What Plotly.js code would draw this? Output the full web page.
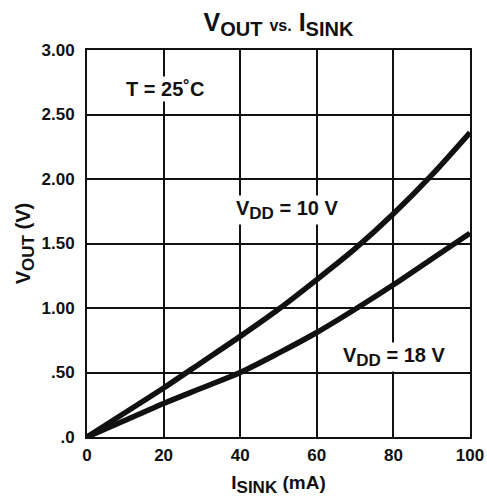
<!DOCTYPE html>
<html>
<head>
<meta charset="utf-8">
<script src="https://cdn.plot.ly/plotly-3.0.1.min.js"></script>
<style>body{margin:0;background:#fff}#c{width:487px;height:497px}</style>
</head>
<body>
<div id="c"></div>
<script>
var isink = [0, 10, 20, 30, 40, 50, 60, 70, 80, 90, 100];
var vout10 = [0, 0.19, 0.38, 0.58, 0.78, 0.99, 1.22, 1.46, 1.73, 2.03, 2.36];
var vout18 = [0, 0.13, 0.26, 0.38, 0.50, 0.65, 0.81, 0.99, 1.18, 1.38, 1.58];
var yTickVals = [0, 0.5, 1, 1.5, 2, 2.5, 3];
var yTickText = ['.0', '.50', '1.00', '1.50', '2.00', '2.50', '3.00'];
var xTickVals = [0, 20, 40, 60, 80, 100];

var fontFam = 'Liberation Sans, Arial, sans-serif';
var lineStyle = {color: '#111', width: 5.5, shape: 'spline', smoothing: 0.8};
var data = [
  {x: isink, y: vout10, mode: 'lines', line: lineStyle, name: 'VDD = 10 V', showlegend: false},
  {x: isink, y: vout18, mode: 'lines', line: lineStyle, name: 'VDD = 18 V', showlegend: false}
];
function b(s) { return '<b>' + s + '</b>'; }
var layout = {
  width: 487, height: 497,
  margin: {l: 87, r: 17, t: 50, b: 60},
  paper_bgcolor: '#fff', plot_bgcolor: '#fff',
  font: {family: fontFam, color: '#111'},
  title: {
    text: '<b>V<sub><span style="font-size:20px">OUT</span></sub> <span style="font-size:16px">vs.</span> I<sub><span style="font-size:20px">SINK</span></sub></b>',
    xref: 'paper', x: 0.5, xanchor: 'center', yref: 'container', y: 0.955, yanchor: 'middle',
    font: {size: 25, family: fontFam}
  },
  xaxis: {
    range: [0, 100], tickvals: xTickVals, ticktext: xTickVals.map(function (v) { return b(String(v)); }),
    showgrid: true, gridcolor: '#111', gridwidth: 2,
    showline: true, linecolor: '#111', linewidth: 2, mirror: true,
    zeroline: false, ticks: '', tickfont: {size: 17, family: fontFam}, ticklabelstandoff: 2,
    title: {text: '<b>I<sub><span style="font-size:17px">SINK</span></sub> (mA)</b>', font: {size: 19, family: fontFam}, standoff: 12}
  },
  yaxis: {
    range: [0, 3], tickvals: yTickVals, ticktext: yTickText.map(b),
    showgrid: true, gridcolor: '#111', gridwidth: 2,
    showline: true, linecolor: '#111', linewidth: 2, mirror: true,
    zeroline: false, ticks: '', tickfont: {size: 17, family: fontFam}, ticklabelstandoff: 7,
    title: {text: '<b>V<sub><span style="font-size:17px">OUT</span></sub> (V)</b>', font: {size: 20, family: fontFam}, standoff: 6}
  },
  annotations: [
    {x: 20.4, y: 2.70, text: '<b>T = 25˚C</b>', showarrow: false, bgcolor: '#fff', font: {size: 20, family: fontFam}},
    {x: 52.3, y: 1.76, text: '<b>V<sub><span style="font-size:17px">DD</span></sub> = 10 V</b>', showarrow: false, bgcolor: '#fff', font: {size: 20, family: fontFam}},
    {x: 80.4, y: 0.62, text: '<b>V<sub><span style="font-size:17px">DD</span></sub> = 18 V</b>', showarrow: false, bgcolor: '#fff', font: {size: 20, family: fontFam}}
  ]
};
Plotly.newPlot('c', data, layout, {displayModeBar: false, staticPlot: true});
</script>
</body>
</html>
